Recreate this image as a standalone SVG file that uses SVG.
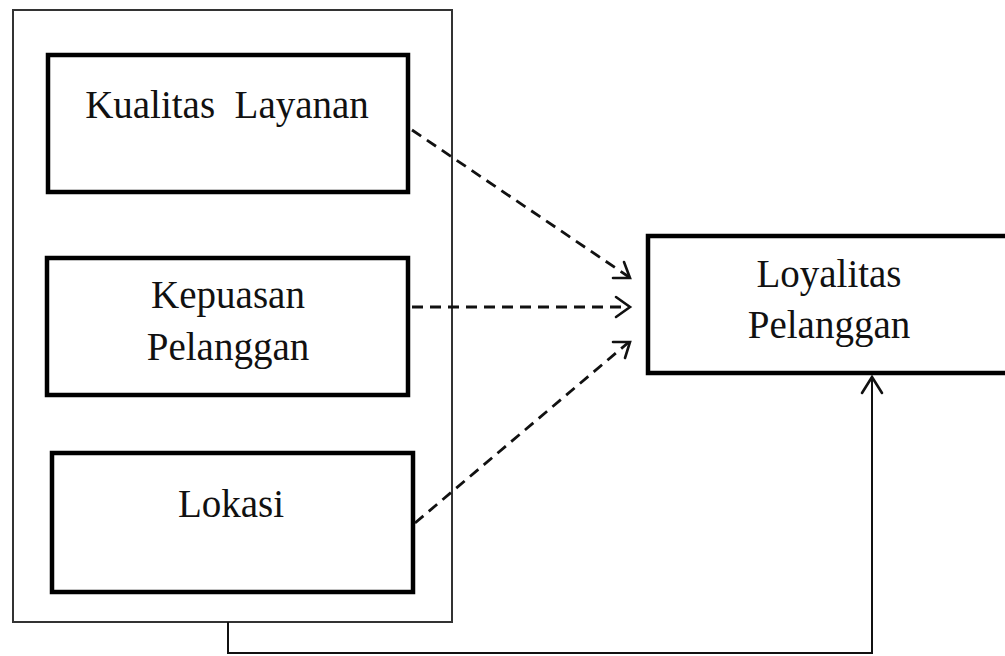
<svg xmlns="http://www.w3.org/2000/svg" width="1005" height="656" viewBox="0 0 1005 656">
<style>
.box{fill:#fff;stroke:#000;stroke-width:4.5}
.outer{fill:#fff;stroke:#333;stroke-width:2}
.t{font-family:"Liberation Serif","Times New Roman",serif;font-size:39px;fill:#111;text-anchor:middle}
.dash{fill:none;stroke:#111;stroke-width:2.8;stroke-dasharray:11 7}
.solid{fill:none;stroke:#111;stroke-width:2}
.head{fill:none;stroke:#111;stroke-width:2.6;stroke-linecap:round;stroke-linejoin:miter}
</style>
<rect width="1005" height="656" fill="#fff"/>
<g id="group-box"><rect class="outer" x="13" y="10" width="439" height="612"/></g>
<g id="kualitas"><rect class="box" x="48" y="55" width="360" height="137"/><text class="t" x="227" y="118" xml:space="preserve">Kualitas  Layanan</text></g>
<g id="kepuasan"><rect class="box" x="47" y="258" width="361" height="137"/><text class="t" x="228" y="308">Kepuasan</text><text class="t" x="228" y="360">Pelanggan</text></g>
<g id="lokasi"><rect class="box" x="52" y="453" width="361" height="139"/><text class="t" x="231" y="517">Lokasi</text></g>
<g id="loyalitas"><rect class="box" x="648" y="236" width="362" height="137"/><text class="t" x="829" y="287">Loyalitas</text><text class="t" x="829" y="338">Pelanggan</text></g>
<g id="connectors">
<path class="dash" d="M412 130 L629 277"/>
<path class="head" d="M613 278 L630 278 L624 262"/>
<path class="dash" d="M412 307 L628 307"/>
<path class="head" d="M616 297 L630 307 L616 317"/>
<path class="dash" d="M415 523 L629 342"/>
<path class="head" d="M613 342 L630 342 L625 358"/>
<path class="solid" d="M228 622 L228 653 L872 653 L872 376"/>
<path class="head" d="M862 393 L872 377 L882 393"/>
</g>
</svg>
